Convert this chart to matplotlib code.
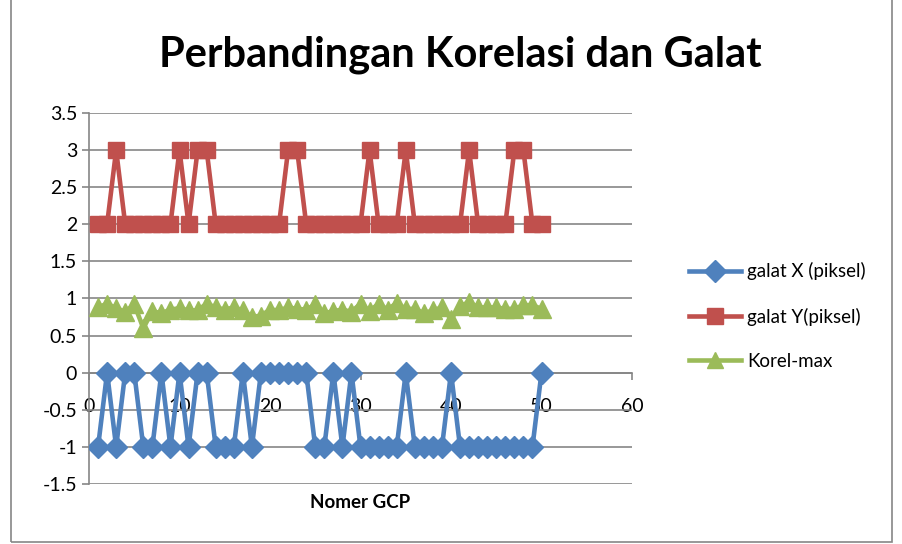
import numpy as np
import matplotlib.pyplot as plt
from matplotlib.lines import Line2D

# data
nomer_gcp = list(range(1, 51))

galat_x = [-1, 0, -1, 0, 0, -1, -1, 0, -1, 0,
           -1, 0, 0, -1, -1, -1, 0, -1, 0, 0,
           0, 0, 0, 0, -1, -1, 0, -1, 0, -1,
           -1, -1, -1, -1, 0, -1, -1, -1, -1, 0,
           -1, -1, -1, -1, -1, -1, -1, -1, -1, 0]

galat_y = [2, 2, 3, 2, 2, 2, 2, 2, 2, 3,
           2, 3, 3, 2, 2, 2, 2, 2, 2, 2,
           2, 3, 3, 2, 2, 2, 2, 2, 2, 2,
           3, 2, 2, 2, 3, 2, 2, 2, 2, 2,
           2, 3, 2, 2, 2, 2, 3, 3, 2, 2]

korel_max = [0.88, 0.93, 0.87, 0.82, 0.92, 0.60, 0.83, 0.80, 0.85, 0.87,
             0.84, 0.84, 0.93, 0.88, 0.85, 0.88, 0.84, 0.75, 0.77, 0.85,
             0.84, 0.88, 0.86, 0.85, 0.92, 0.80, 0.83, 0.85, 0.82, 0.93,
             0.83, 0.93, 0.85, 0.94, 0.86, 0.86, 0.80, 0.84, 0.88, 0.72,
             0.90, 0.95, 0.88, 0.88, 0.88, 0.86, 0.86, 0.91, 0.91, 0.86]

labels = ["galat X (piksel)", "galat Y(piksel)", "Korel-max"]
colors = ["#4F81BD", "#C0504D", "#9BBB59"]
markers = ["D", "s", "^"]

plt.rcParams['font.family'] = ['Lato', 'DejaVu Sans']

fig = plt.figure(figsize=(9.03, 5.44), dpi=100)
ax = fig.add_axes([89/903, 1 - 484/544, (632-89)/903, (484-113)/544])

ax.plot(nomer_gcp, galat_x, color=colors[0], marker=markers[0], lw=3.3, ms=11, zorder=3)
ax.plot(nomer_gcp, galat_y, color=colors[1], marker=markers[1], lw=3.3, ms=11.5, zorder=3)
ax.plot(nomer_gcp, korel_max, color=colors[2], marker=markers[2], lw=3.3, ms=12.5, zorder=3)

ax.set_xlim(0, 60)
ax.set_ylim(-1.5, 3.5)
ax.set_xticks(np.arange(0, 61, 10))
ax.set_yticks(np.arange(-1.5, 3.51, 0.5))
ax.set_yticklabels(["-1.5", "-1", "-0.5", "0", "0.5", "1", "1.5", "2", "2.5", "3", "3.5"])
ax.grid(axis='y', color='#868686', lw=1.2)
ax.set_axisbelow(True)

ax.spines['bottom'].set_position(('data', 0))
ax.spines['top'].set_visible(False)
ax.spines['right'].set_visible(False)
for s in ['left', 'bottom']:
    ax.spines[s].set_color('#868686')
    ax.spines[s].set_linewidth(1.2)
ax.tick_params(axis='both', colors='#868686', labelcolor='black', labelsize=14, length=5, width=1.2)
ax.tick_params(axis='x', pad=13)

fig.text(360/903, 1 - 503/544, "Nomer GCP", ha='center', va='center', fontsize=13.5, fontweight='bold')
fig.text(460/903, 1 - 55/544, "Perbandingan Korelasi dan Galat", ha='center', va='center',
         fontsize=30, fontweight='bold')

handles = [Line2D([], [], color=c, marker=m, lw=3.3, ms=11) for c, m in zip(colors, markers)]
fig.legend(handles, labels, loc='center left', bbox_to_anchor=(672/903, 1 - 316/544),
           frameon=False, fontsize=13.5, handlelength=2.8, labelspacing=1.45, handletextpad=0.3)

# outer chart border
fig.add_artist(plt.Rectangle((11/903, 2/544), (892-11)/903, 600/544, transform=fig.transFigure,
                             fill=False, edgecolor='#868686', lw=1.2))

fig.savefig("out.png", dpi=100)
